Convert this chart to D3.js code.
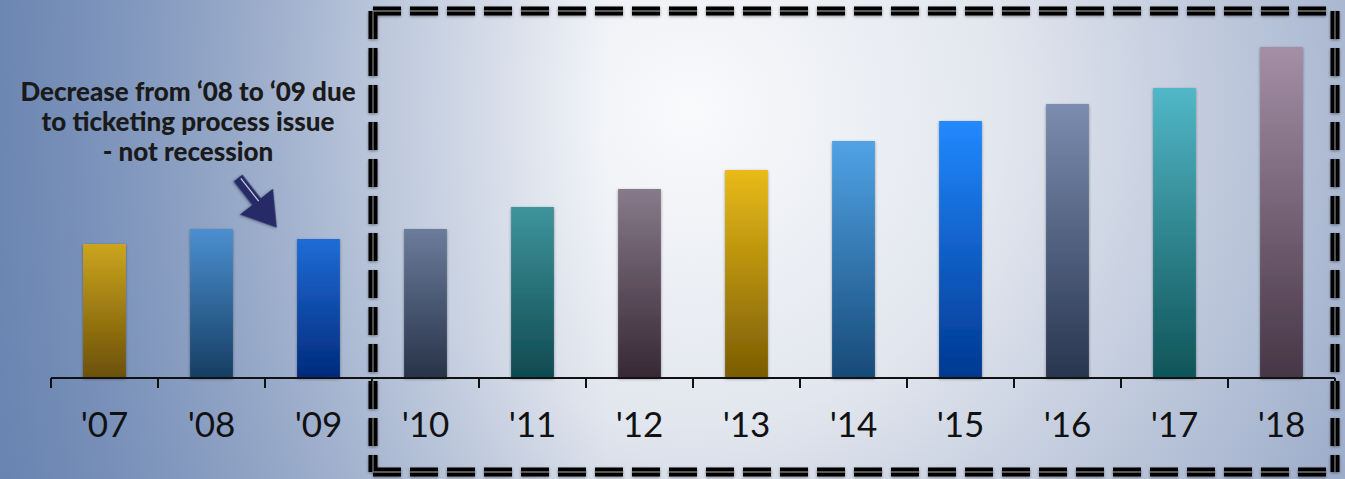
<!DOCTYPE html>
<html>
<head>
<meta charset="utf-8">
<script src="https://cdn.jsdelivr.net/npm/d3@7"></script>
<style>
html,body{margin:0;padding:0;overflow:hidden;background:#fff;}
svg{display:block;}
</style>
</head>
<body>
<svg id="chart" width="1345" height="479"></svg>
<script>
// ---- data ----
const years = ["'07","'08","'09","'10","'11","'12","'13","'14","'15","'16","'17","'18"];
const values = [134, 149, 139, 149, 171, 189, 208, 237, 257, 274, 290, 331];
const topColors = ["#cca51e","#4b8fd0","#1f6cd6","#6b7c9a","#3f949c","#877a8a","#e9bb18","#51a3e6","#2289ff","#7b8db0","#52b7c7","#a48fa6"];
const bottomColors = ["#6b5006","#163e62","#002a7c","#283349","#0f4a50","#372834","#7a5c03","#174a78","#003890","#29354e","#0f5458","#463645"];
const noteLines = ["Decrease from \u201808 to \u201809 due","to ticketing process issue","- not recession"];

const W = 1345, H = 479;
const svg = d3.select("#chart");
const defs = svg.append("defs");

// background
const rg = defs.append("radialGradient").attr("id","bg").attr("gradientUnits","userSpaceOnUse")
  .attr("cx",690).attr("cy",110).attr("r",900);
rg.append("stop").attr("offset",0).attr("stop-color","#f9fafc");
rg.append("stop").attr("offset",0.35).attr("stop-color","#e2e6ee");
rg.append("stop").attr("offset",0.75).attr("stop-color","#a8b6d0");
rg.append("stop").attr("offset",1).attr("stop-color","#8497bf");
svg.append("rect").attr("width",W).attr("height",H).attr("fill","url(#bg)");
const lg = defs.append("linearGradient").attr("id","leftShade").attr("x1",0).attr("x2",1).attr("y1",0).attr("y2",0);
lg.append("stop").attr("offset",0).attr("stop-color","#5a78aa").attr("stop-opacity",0.75);
lg.append("stop").attr("offset",0.45).attr("stop-color","#5a78aa").attr("stop-opacity",0);
svg.append("rect").attr("width",W).attr("height",H).attr("fill","url(#leftShade)");

// shadow filter
const f = defs.append("filter").attr("id","sh").attr("x","-20%").attr("y","-20%").attr("width","140%").attr("height","140%");
f.append("feGaussianBlur").attr("in","SourceAlpha").attr("stdDeviation",1.5).attr("result","b");
f.append("feOffset").attr("dx",0).attr("dy",1).attr("result","o");
f.append("feComponentTransfer").append("feFuncA").attr("type","linear").attr("slope",0.4);
const fm = f.append("feMerge"); fm.append("feMergeNode"); fm.append("feMergeNode").attr("in","SourceGraphic");

// scales
const x = d3.scaleBand().domain(years).range([51, 1335]).paddingInner(0.6).paddingOuter(0.3);
const y = d3.scaleLinear().domain([0, 331]).range([378, 47]);

years.forEach((yr,i)=>{
  const g = defs.append("linearGradient").attr("id","bar"+i).attr("x1",0).attr("x2",0).attr("y1",0).attr("y2",1);
  g.append("stop").attr("offset",0).attr("stop-color",topColors[i]);
  g.append("stop").attr("offset",1).attr("stop-color",bottomColors[i]);
});

svg.append("g").selectAll("rect").data(years).join("rect")
  .attr("x", d=>x(d)).attr("width", x.bandwidth())
  .attr("y", (d,i)=>y(values[i])).attr("height",(d,i)=>y(0)-y(values[i]))
  .attr("fill",(d,i)=>"url(#bar"+i+")").attr("filter","url(#sh)");

// axis
const step = x.step();
const axisG = svg.append("g");
axisG.append("line").attr("x1",x.range()[0]).attr("x2",x.range()[1]).attr("y1",y(0)).attr("y2",y(0))
  .attr("stroke","#111").attr("stroke-width",2);
const bounds = years.map(d=>x(d)-step*x.paddingInner()/2).concat([x.range()[1]]);
axisG.selectAll("line.tick").data(bounds).join("line").attr("class","tick")
  .attr("x1",d=>d).attr("x2",d=>d).attr("y1",y(0)).attr("y2",y(0)+10)
  .attr("stroke","#111").attr("stroke-width",2);
axisG.selectAll("text").data(years).join("text")
  .attr("x",d=>x(d)+x.bandwidth()/2).attr("y",437)
  .attr("text-anchor","middle").attr("font-family","Lato, 'Open Sans', sans-serif")
  .attr("font-size",35).attr("fill","#111").text(d=>d);

// annotation
const note = svg.append("text").attr("font-family","Lato, 'Open Sans', sans-serif").attr("font-weight","900")
  .attr("font-size",26).attr("fill","#1a1a1a").attr("text-anchor","middle");
note.selectAll("tspan").data(noteLines).join("tspan").attr("x",188).attr("y",(d,i)=>101+i*30).text(d=>d);

// arrow
const arrow = svg.append("g").attr("transform","translate(238,178) rotate(52)");
arrow.append("path").attr("d","M0,-5.5 L30,-5.5 L30,-21 L63,0 L30,21 L30,5.5 L0,5.5 Z")
  .attr("fill","#262b66").attr("filter","url(#sh)");
arrow.append("line").attr("x1",2).attr("x2",31).attr("y1",-2).attr("y2",-2).attr("stroke","#c8cce0").attr("stroke-width",1.2);

// dashed box
const box = {x0:373, y0:11, x1:1335, y1:472};
const sides = [
  [[box.x0,box.y0],[box.x1,box.y0]],
  [[box.x0,box.y0],[box.x0,box.y1]],
  [[box.x1,box.y0],[box.x1,box.y1]],
  [[box.x0,box.y1],[box.x1,box.y1]]
];
const bx = svg.append("g").attr("filter","url(#sh)");
sides.forEach(s=>{
  bx.append("line").attr("x1",s[0][0]).attr("y1",s[0][1]).attr("x2",s[1][0]).attr("y2",s[1][1])
    .attr("stroke","#000").attr("stroke-width",9).attr("stroke-dasharray","28 9");
});
sides.forEach(s=>{
  bx.append("line").attr("x1",s[0][0]).attr("y1",s[0][1]).attr("x2",s[1][0]).attr("y2",s[1][1])
    .attr("stroke","#777").attr("stroke-width",1.3).attr("stroke-dasharray","28 9");
});
</script>
</body>
</html>
